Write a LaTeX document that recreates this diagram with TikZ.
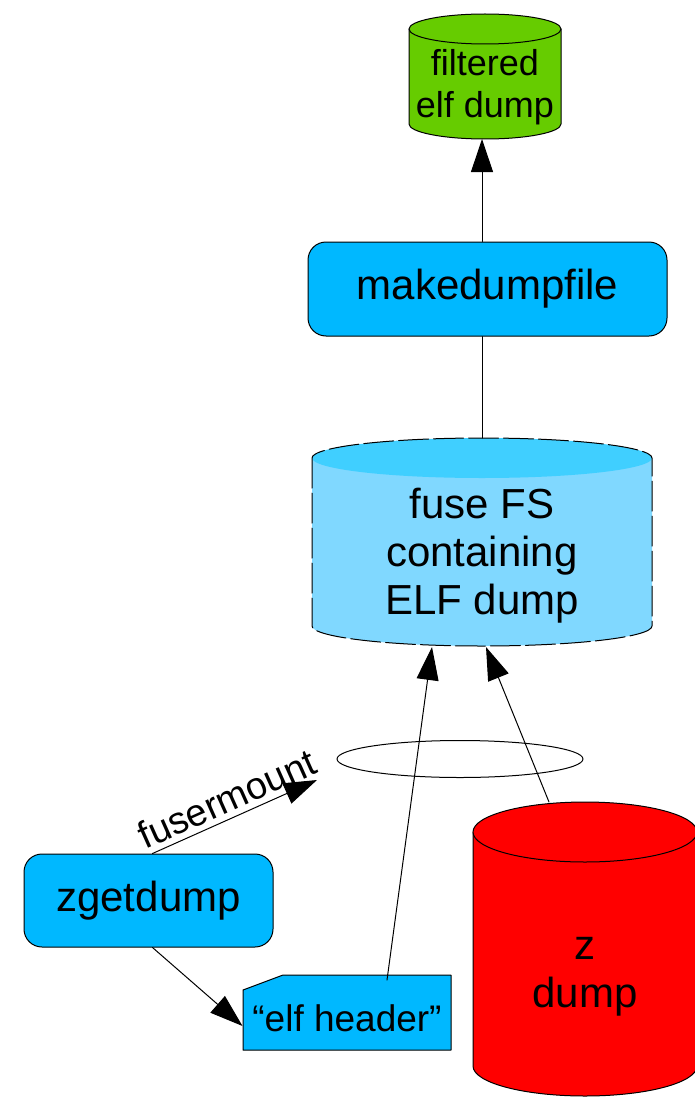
\documentclass[tikz,border=0pt]{standalone}
\usepackage{fontspec}
\setmainfont{Liberation Sans}
\usepackage{tikz}
\usetikzlibrary{arrows.meta}

\definecolor{dumpgreen}{RGB}{102,204,0}
\definecolor{toolblue}{RGB}{0,184,255}
\definecolor{fusebody}{RGB}{128,216,255}
\definecolor{fusetopc}{RGB}{64,207,255}
\definecolor{zred}{RGB}{255,0,0}
\newcommand{\lblbig}{\fontsize{42}{48}\selectfont}
\newcommand{\lblmid}{\fontsize{37}{42}\selectfont}

\begin{document}
\begin{tikzpicture}[line cap=round,line join=round,x=1pt,y=-1pt,line width=1pt,
  toolbox/.style={draw,fill=toolblue,rounded corners=18pt,font=\lblbig,inner sep=0pt},
  txt/.style={align=center,inner sep=0pt},
  arr/.style={-{Triangle[length=33pt,width=22pt]}}]
\clip (0,0) rectangle (695,1097);
% filtered dump
\fill[dumpgreen] (409,29) -- (409,124) arc[start angle=180,end angle=0,x radius=76,y radius=15] -- (561,29) -- cycle;
\draw (409,29) -- (409,124) arc[start angle=180,end angle=0,x radius=76,y radius=15] -- (561,29);
\draw[fill=dumpgreen] (485,29) ellipse [x radius=76,y radius=15];
% fuse FS
\fill[fusebody] (312,458) -- (312,626) arc[start angle=180,end angle=0,x radius=170,y radius=20] -- (652,458) -- cycle;
\fill[fusetopc] (482,458) ellipse [x radius=170,y radius=20];
\draw[dash pattern=on 30pt off 5pt] (312,458) -- (312,626) arc[start angle=180,end angle=0,x radius=170,y radius=20] -- (652,458) arc[start angle=0,end angle=-180,x radius=170,y radius=20];
% the mount
\draw (460,759) ellipse [x radius=123,y radius=18.5];
% z dump
\fill[zred] (473,832) -- (473,1066) arc[start angle=180,end angle=0,x radius=112,y radius=30] -- (697,832) -- cycle;
\draw (473,832) -- (473,1066) arc[start angle=180,end angle=0,x radius=112,y radius=30] -- (697,832);
\draw[fill=zred] (585,832) ellipse [x radius=112,y radius=30];
% elf header box
\draw[fill=toolblue] (243,990) -- (283,975) -- (451,975) -- (451,1050) -- (243,1050) -- cycle;

\node[txt,font=\fontsize{36}{42}\selectfont] (filt) at (485,87) {filtered\\elf dump};
\node[txt,font=\lblbig] (fuse) at (482,556) {fuse FS\\containing\\ELF dump};
\node[txt,font=\lblbig] (zd) at (585,977) {z\\dump};
\node[txt,font=\lblmid,minimum width=208pt,minimum height=75pt] (hdr) at (347,1018) {“elf header”};
\node[toolbox,minimum width=359pt,minimum height=94pt] (mdf) at (487.5,289) {makedumpfile};
\node[toolbox,minimum width=249pt,minimum height=93pt] (zget) at (148.5,900.5) {zgetdump};

\coordinate (filtbot) at (482,139);
\coordinate (fusetop) at (482,438);
\coordinate (fuseL) at (432,647);
\coordinate (fuseR) at (486,647);
\coordinate (zdtop) at (549,802);
\coordinate (mnt) at (317,780);

\draw[arr] (filtbot |- mdf.north) -- (filtbot);
\draw (fusetop |- mdf.south) -- (fusetop);
\draw[arr] ([xshift=40pt]hdr.north) -- (fuseL);
\draw[arr] (zdtop) -- (fuseR);
\draw[arr] ([xshift=4pt]zget.north) -- node[midway,sloped,above=2pt,font=\fontsize{38}{44}\selectfont] {fusermount} (mnt);
\draw[arr] ([xshift=4pt]zget.south) -- ([yshift=-8pt]hdr.west);
\end{tikzpicture}
\end{document}
